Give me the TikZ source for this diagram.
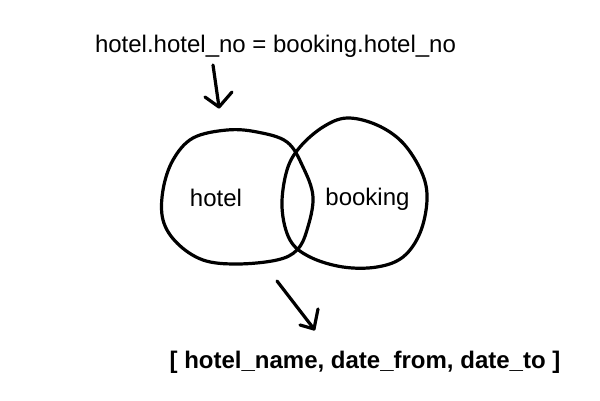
\documentclass[tikz,border=0pt]{standalone}
\usepackage{fontspec}
\setmainfont{Liberation Sans}
\begin{document}
\begin{tikzpicture}[x=1pt,y=-1pt,
  pen/.style={line width=3.2pt,line cap=round,line join=round},
  lbl/.style={font=\fontsize{24}{28}\selectfont,inner sep=0pt,anchor=base},
  blbl/.style={font=\fontsize{24}{28}\selectfont\bfseries,inner sep=0pt,anchor=base}]
\useasboundingbox (0,0) rectangle (600,400);
\fill[white] (0,0) rectangle (600,400);
% texts
\node[lbl] (cond) at (275.5,52) {hotel.hotel\_no = booking.hotel\_no};
\node[lbl] (hl) at (216,206) {hotel};
\node[lbl] (bl) at (367.5,205.5) {booking};
\node[blbl] (res) at (365,368) {[ hotel\_name, date\_from, date\_to ]};
% left circle (hotel)
\draw[pen] plot[smooth cycle,tension=0.6] coordinates {(163,190) (173,160) (193,138) (227,130) (257,132) (287,142) (303,167) (313,197) (307,230) (297,250) (277,260) (237,264) (203,260) (177,243) (163,220)};
% right circle (booking)
\draw[pen] plot[smooth cycle,tension=0.6] coordinates {(347,118) (377,125) (403,143) (422,173) (427,200) (420,233) (403,257) (377,267) (343,267) (310,257) (290,240) (282,207) (287,170) (300,147) (323,127)};
% arrow 1
\coordinate (a1s) at (213,65);
\coordinate (a1e) at (219,107);
\coordinate (a1l) at (205,97);
\coordinate (a1r) at (232,92);
\draw[pen] (a1s) -- (a1e);
\draw[pen] (a1l) -- (a1e) -- (a1r);
% arrow 2
\coordinate (a2s) at (277,281);
\coordinate (a2e) at (314,329);
\coordinate (a2l) at (300,325);
\coordinate (a2r) at (318,309);
\draw[pen] (a2s) -- (a2e);
\draw[pen] (a2l) -- (a2e) -- (a2r);
\end{tikzpicture}
\end{document}
